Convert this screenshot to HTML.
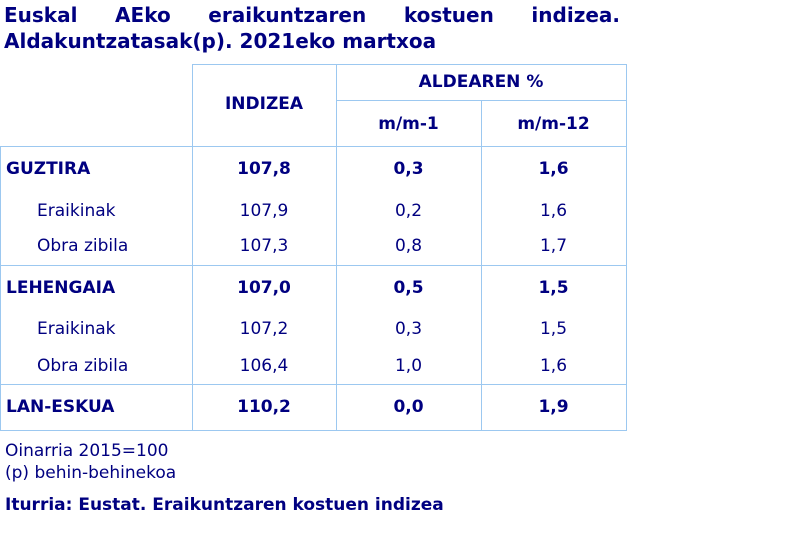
<!DOCTYPE html>
<html><head><meta charset="utf-8"><style>
body{margin:0;width:800px;height:535px;background:#fff;position:relative;font-family:"DejaVu Sans","Liberation Sans",sans-serif;color:#000080;overflow:hidden}
.l{position:absolute;background:#9cc8f0}
.t{position:absolute;font-size:17px;line-height:20px;white-space:nowrap}
.b{font-weight:bold}
.c{text-align:center}
.title{position:absolute;left:4px;width:616px;font-size:20px;font-weight:bold;line-height:24px;text-align:justify;text-align-last:justify;white-space:nowrap}
</style></head><body>
<div class="title" style="top:3px">Euskal AEko eraikuntzaren kostuen indizea.</div>
<div class="title" style="top:29px;text-align-last:left">Aldakuntzatasak(p). 2021eko martxoa</div>

<div class="l" style="left:192px;top:64px;width:435px;height:1px"></div>
<div class="l" style="left:336px;top:100px;width:291px;height:1px"></div>
<div class="l" style="left:0;top:146px;width:627px;height:1px"></div>
<div class="l" style="left:0;top:265px;width:627px;height:1px"></div>
<div class="l" style="left:0;top:384px;width:627px;height:1px"></div>
<div class="l" style="left:0;top:430px;width:627px;height:1px"></div>
<div class="l" style="left:0;top:146px;width:1px;height:285px"></div>
<div class="l" style="left:192px;top:64px;width:1px;height:367px"></div>
<div class="l" style="left:336px;top:64px;width:1px;height:367px"></div>
<div class="l" style="left:481px;top:100px;width:1px;height:331px"></div>
<div class="l" style="left:626px;top:64px;width:1px;height:367px"></div>

<div class="t b c" style="left:192px;width:144px;top:94px">INDIZEA</div>
<div class="t b c" style="left:336px;width:290px;top:72px">ALDEAREN %</div>
<div class="t b c" style="left:336px;width:145px;top:114px">m/m-1</div>
<div class="t b c" style="left:481px;width:145px;top:114px">m/m-12</div>

<div class="t b" style="left:6px;top:159px">GUZTIRA</div>
<div class="t b c" style="left:192px;width:144px;top:159px">107,8</div>
<div class="t b c" style="left:336px;width:145px;top:159px">0,3</div>
<div class="t b c" style="left:481px;width:145px;top:159px">1,6</div>

<div class="t" style="left:37px;top:201px">Eraikinak</div>
<div class="t c" style="left:192px;width:144px;top:201px">107,9</div>
<div class="t c" style="left:336px;width:145px;top:201px">0,2</div>
<div class="t c" style="left:481px;width:145px;top:201px">1,6</div>

<div class="t" style="left:37px;top:236px">Obra zibila</div>
<div class="t c" style="left:192px;width:144px;top:236px">107,3</div>
<div class="t c" style="left:336px;width:145px;top:236px">0,8</div>
<div class="t c" style="left:481px;width:145px;top:236px">1,7</div>

<div class="t b" style="left:6px;top:278px">LEHENGAIA</div>
<div class="t b c" style="left:192px;width:144px;top:278px">107,0</div>
<div class="t b c" style="left:336px;width:145px;top:278px">0,5</div>
<div class="t b c" style="left:481px;width:145px;top:278px">1,5</div>

<div class="t" style="left:37px;top:319px">Eraikinak</div>
<div class="t c" style="left:192px;width:144px;top:319px">107,2</div>
<div class="t c" style="left:336px;width:145px;top:319px">0,3</div>
<div class="t c" style="left:481px;width:145px;top:319px">1,5</div>

<div class="t" style="left:37px;top:356px">Obra zibila</div>
<div class="t c" style="left:192px;width:144px;top:356px">106,4</div>
<div class="t c" style="left:336px;width:145px;top:356px">1,0</div>
<div class="t c" style="left:481px;width:145px;top:356px">1,6</div>

<div class="t b" style="left:6px;top:397px">LAN-ESKUA</div>
<div class="t b c" style="left:192px;width:144px;top:397px">110,2</div>
<div class="t b c" style="left:336px;width:145px;top:397px">0,0</div>
<div class="t b c" style="left:481px;width:145px;top:397px">1,9</div>

<div class="t" style="left:5px;top:441px">Oinarria 2015=100</div>
<div class="t" style="left:5px;top:463px">(p) behin-behinekoa</div>
<div class="t b" style="left:5px;top:495px">Iturria: Eustat. Eraikuntzaren kostuen indizea</div>
</body></html>
